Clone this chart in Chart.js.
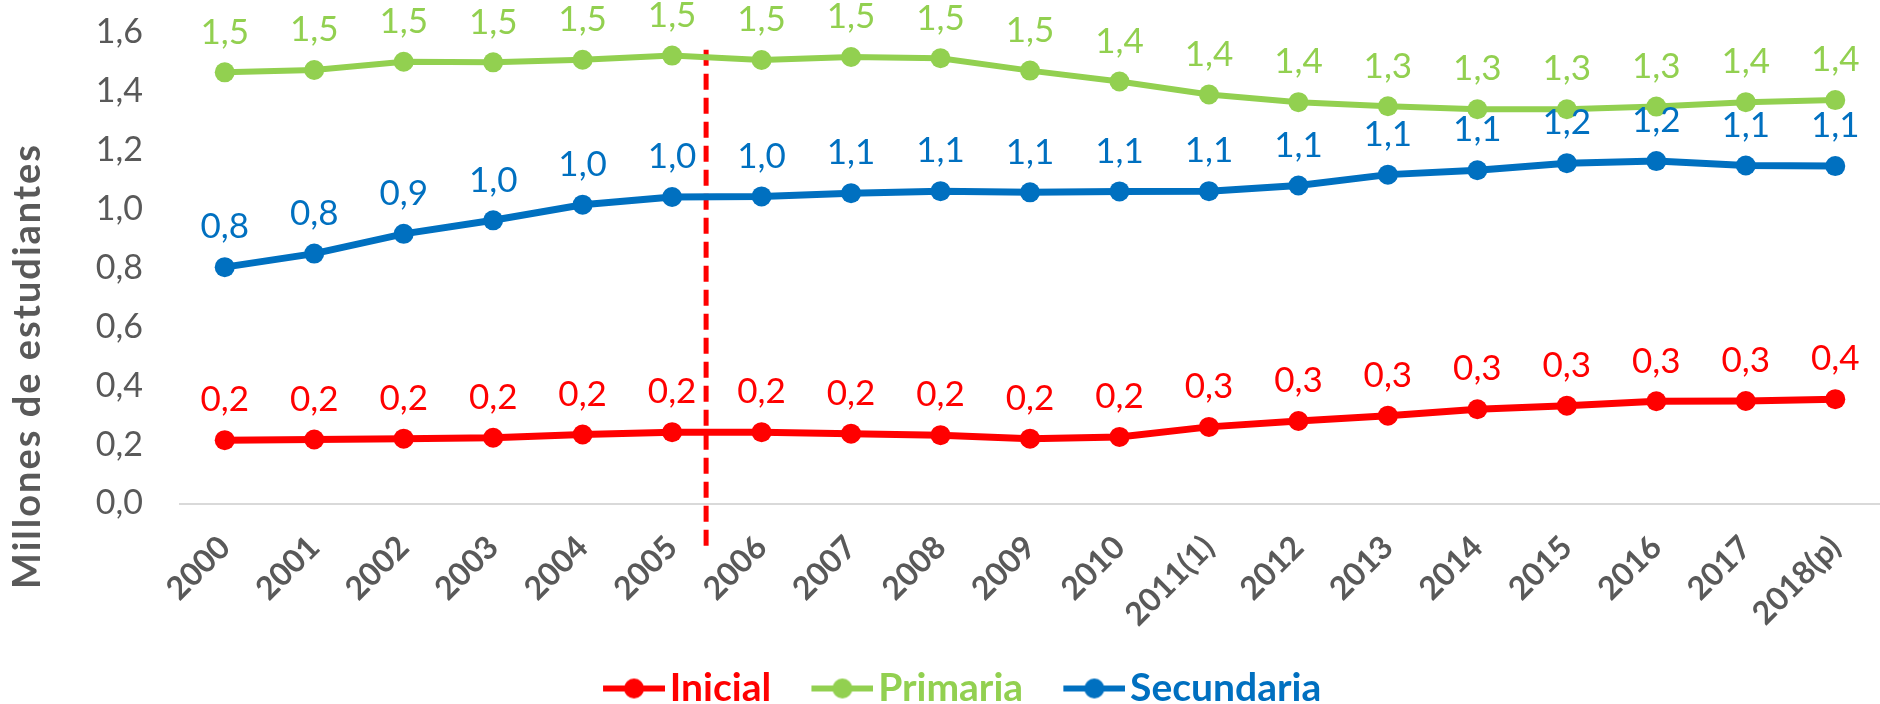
<!DOCTYPE html>
<html>
<head>
<meta charset="utf-8">
<script src="https://cdn.jsdelivr.net/npm/chart.js@4.4.1/dist/chart.umd.min.js"></script>
<style>
    html, body { margin: 0; padding: 0; background: #fff; overflow: hidden; }
    #wrap { width: 1890px; height: 718px; position: relative; }
</style>
</head>
<body>
<div id="wrap"><canvas id="matriculaChart"></canvas></div>
<script>
// Data
const years = ['2000', '2001', '2002', '2003', '2004', '2005', '2006', '2007', '2008', '2009', '2010',
    '2011(1)', '2012', '2013', '2014', '2015', '2016', '2017', '2018(p)'];
const inicial = [0.215, 0.217, 0.220, 0.223, 0.234, 0.242, 0.242, 0.237, 0.232, 0.220, 0.226,
    0.260, 0.280, 0.298, 0.320, 0.332, 0.347, 0.348, 0.354];
const primaria = [1.463, 1.471, 1.499, 1.497, 1.506, 1.520, 1.505, 1.515, 1.511, 1.469, 1.432,
    1.388, 1.362, 1.348, 1.338, 1.338, 1.347, 1.362, 1.369];
const secundaria = [0.802, 0.848, 0.915, 0.961, 1.014, 1.040, 1.042, 1.053, 1.060, 1.056, 1.059,
    1.060, 1.079, 1.116, 1.131, 1.155, 1.162, 1.147, 1.145];
const yTicks = [0, 0.2, 0.4, 0.6, 0.8, 1.0, 1.2, 1.4, 1.6];

const RED = '#FF0000';
const GREEN = '#92D050';
const BLUE = '#0070C0';
const GREY = '#595959';
const FONT = 'Lato';

const fmt = v => v.toFixed(1).replace('.', ',');

// legend icon: line with a dot, pushed to the right end of a wider image
// so the gap before the text is small and the gap between items is large
const ICON_W = 107;
function legendIcon(color) {
    const c = document.createElement('canvas');
    c.width = ICON_W;
    c.height = 22;
    const g = c.getContext('2d');
    g.strokeStyle = color;
    g.lineWidth = 6;
    g.beginPath();
    g.moveTo(ICON_W - 62, 11);
    g.lineTo(ICON_W, 11);
    g.stroke();
    g.fillStyle = color;
    g.beginPath();
    g.arc(ICON_W - 31, 11, 10, 0, Math.PI * 2);
    g.fill();
    return c;
}

// value labels above every point
const valueLabels = {
    id: 'valueLabels',
    afterDatasetsDraw(chart) {
        const ctx = chart.ctx;
        ctx.save();
        ctx.font = '35px ' + FONT;
        ctx.textAlign = 'center';
        ctx.textBaseline = 'middle';
        chart.data.datasets.forEach((ds, i) => {
            const meta = chart.getDatasetMeta(i);
            ctx.fillStyle = ds.borderColor;
            meta.data.forEach((pt, j) => {
                ctx.fillText(fmt(ds.data[j]), pt.x, pt.y - 40);
            });
        });
        ctx.restore();
    }
};

// red dashed break line between 2005 and 2006
const breakAt = 5.38;
const breakLine = {
    id: 'breakLine',
    beforeDatasetsDraw(chart) {
        const x = chart.scales.x, y = chart.scales.y;
        const i = Math.floor(breakAt);
        const px = x.getPixelForValue(i) + (breakAt - i) * (x.getPixelForValue(i + 1) - x.getPixelForValue(i));
        const ctx = chart.ctx;
        ctx.save();
        ctx.strokeStyle = RED;
        ctx.lineWidth = 5;
        ctx.setLineDash([16, 8]);
        ctx.beginPath();
        ctx.moveTo(px, y.getPixelForValue(1.54));
        ctx.lineTo(px, y.getPixelForValue(0) + 50);
        ctx.stroke();
        ctx.restore();
    }
};

// y axis title, centred lower than the plot area
const yTitle = {
    id: 'yTitle',
    afterDraw(chart) {
        const ctx = chart.ctx;
        ctx.save();
        ctx.translate(28, 366);
        ctx.rotate(-Math.PI / 2);
        ctx.font = 'bold 38px ' + FONT;
        ctx.letterSpacing = '2px';
        ctx.fillStyle = GREY;
        ctx.textAlign = 'center';
        ctx.textBaseline = 'middle';
        ctx.fillText('Millones de estudiantes', 0, 0);
        ctx.restore();
    }
};

function series(label, data, color, width) {
    return {
        label: label,
        data: data,
        borderColor: color,
        backgroundColor: color,
        borderWidth: width,
        pointRadius: 10,
        pointHoverRadius: 10,
        pointBackgroundColor: color,
        pointBorderWidth: 0,
        tension: 0
    };
}

const ctx = document.getElementById('matriculaChart').getContext('2d');
new Chart(ctx, {
    type: 'line',
    data: {
        labels: years,
        datasets: [
            series('Inicial', inicial, RED, 7),
            series('Primaria', primaria, GREEN, 6),
            series('Secundaria', secundaria, BLUE, 7)
        ]
    },
    options: {
        responsive: true,
        maintainAspectRatio: false,
        animation: false,
        layout: { padding: { top: 32, left: 4, right: 0, bottom: 0 } },
        plugins: {
            legend: {
                position: 'bottom',
                labels: {
                    usePointStyle: true,
                    pointStyleWidth: 77.5,
                    padding: 10,
                    font: { family: FONT, size: 39, weight: 'bold' },
                    generateLabels(chart) {
                        return chart.data.datasets.map((ds, i) => ({
                            text: ds.label,
                            fontColor: ds.borderColor,
                            pointStyle: legendIcon(ds.borderColor),
                            datasetIndex: i,
                            hidden: false,
                            lineWidth: 0
                        }));
                    }
                }
            },
            tooltip: { enabled: false }
        },
        scales: {
            x: {
                offset: true,
                grid: { display: false, drawTicks: false },
                border: { display: true, color: '#D9D9D9', width: 2 },
                ticks: {
                    color: GREY,
                    font: { family: FONT, size: 32, weight: 'bold' },
                    minRotation: 45,
                    maxRotation: 45,
                    autoSkip: false,
                    padding: 25
                },
                afterFit(scale) {
                    scale.height = 155.5;
                    scale.paddingLeft = 0;
                    scale.paddingRight = 0;
                }
            },
            y: {
                min: 0,
                max: 1.6,
                afterBuildTicks(scale) { scale.ticks = yTicks.map(v => ({ value: v })); },
                grid: { display: false, drawTicks: false },
                border: { display: false },
                ticks: {
                    color: GREY,
                    font: { family: FONT, size: 34 },
                    padding: 37,
                    callback: v => fmt(v)
                },
                afterFit(scale) {
                    scale.width = 176;
                    scale.paddingTop = 0;
                    scale.paddingBottom = 0;
                }
            }
        }
    },
    plugins: [breakLine, valueLabels, yTitle]
});
</script>
</body>
</html>
